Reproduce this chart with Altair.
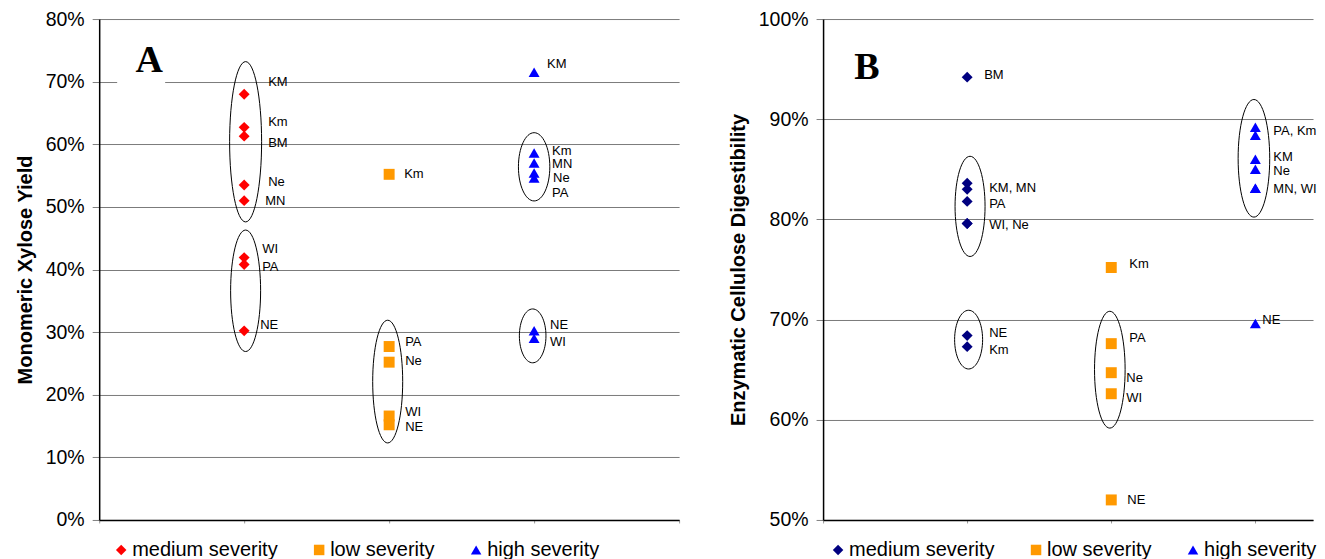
import altair as alt
import pandas as pd

CATS = ["medium severity", "low severity", "high severity"]
CAT_X = [1, 2, 3]
SHAPES = ["diamond", "square", "triangle-up"]

# ---------------- Panel A : Monomeric Xylose Yield (%) ----------------
a_med_names = ["KM", "Km", "BM", "Ne", "MN", "WI", "PA", "NE"]
a_med_vals = [68.0, 62.7, 61.3, 53.5, 51.0, 41.9, 40.8, 30.2]
a_low_names = ["Km", "PA", "Ne", "WI", "NE"]
a_low_vals = [55.2, 27.7, 25.2, 16.6, 15.2]
a_high_names = ["KM", "Km", "MN", "Ne", "PA", "NE", "WI"]
a_high_vals = [71.5, 58.6, 57.0, 55.4, 54.6, 30.2, 29.0]

# point labels (text, label y in %, pixel gap right of the marker)
a_med_lab = ["KM", "Km", "BM", "Ne", "MN", "WI", "PA", "NE"]
a_med_lab_y = [69.9, 63.6, 60.2, 53.9, 51.0, 43.3, 40.4, 31.1]
a_med_lab_dx = [24, 24, 24, 24, 21, 18, 18, 16]
a_low_lab = ["Km", "PA", "Ne", "WI", "NE"]
a_low_lab_y = [55.3, 28.5, 25.4, 17.2, 14.8]
a_low_lab_dx = [15, 16, 16, 16, 16]
a_high_lab = ["KM", "Km", "MN", "Ne", "PA", "NE", "WI"]
a_high_lab_y = [72.8, 59.0, 56.8, 54.6, 52.2, 31.1, 28.4]
a_high_lab_dx = [13, 18, 18, 19, 18, 16, 16]

# cluster ellipses (category x, centre %, half-height %, half-width px)
a_ell_x = [1.01, 1.01, 1.99, 3.0, 2.99]
a_ell_y = [60.4, 36.6, 22.1, 56.4, 29.4]
a_ell_hh = [12.8, 9.7, 9.8, 5.45, 4.3]
a_ell_hw = [16, 15, 15, 15.7, 13.3]

# ---------------- Panel B : Enzymatic Cellulose Digestibility (%) ----------------
b_med_names = ["BM", "KM", "MN", "PA", "WI", "Ne", "NE", "Km"]
b_med_vals = [94.2, 83.6, 83.0, 81.8, 79.6, 79.6, 68.4, 67.3]
b_low_names = ["Km", "PA", "Ne", "WI", "NE"]
b_low_vals = [75.2, 67.6, 64.7, 62.6, 52.0]
b_high_names = ["PA", "Km", "KM", "Ne", "MN", "WI", "NE"]
b_high_vals = [89.2, 88.4, 86.0, 85.0, 83.1, 83.1, 69.6]

b_med_lab = ["BM", "KM, MN", "PA", "WI, Ne", "NE", "Km"]
b_med_lab_y = [94.4, 83.1, 81.5, 79.4, 68.7, 67.0]
b_med_lab_dx = [17, 22, 22, 22, 22, 22]
b_low_lab = ["Km", "PA", "Ne", "WI", "NE"]
b_low_lab_y = [75.5, 68.2, 64.2, 62.2, 52.0]
b_low_lab_dx = [18, 18, 15, 15, 16]
b_high_lab = ["PA, Km", "KM", "Ne", "MN, WI", "NE"]
b_high_lab_y = [88.8, 86.2, 84.8, 83.0, 70.0]
b_high_lab_dx = [18, 18, 18, 18, 7]

b_ell_x = [1.02, 1.01, 1.99, 2.99]
b_ell_y = [81.3, 68.0, 65.0, 86.1]
b_ell_hh = [5.0, 2.93, 5.83, 5.87]
b_ell_hw = [15, 14, 15.3, 15.8]

FONT = "Liberation Sans"
H = 501


def points_df(groups):
    rows = []
    for cat, cx, (names, vals) in zip(CATS, CAT_X, groups):
        for n, v in zip(names, vals):
            rows.append({"x": cx, "y": v, "cat": cat, "name": n})
    return pd.DataFrame(rows)


def labels_df(groups, ppu):
    rows = []
    for cx, (texts, ys, dxs) in zip(CAT_X, groups):
        for t, yv, d in zip(texts, ys, dxs):
            rows.append({"x": cx + d / ppu, "y": yv, "t": t})
    return pd.DataFrame(rows)


def ellipse_path(r):
    k = 0.5523
    return (f"M0,-1 C{k*r:.4f},-1 {r:.4f},{-k:.4f} {r:.4f},0 "
            f"C{r:.4f},{k:.4f} {k*r:.4f},1 0,1 "
            f"C{-k*r:.4f},1 {-r:.4f},{k:.4f} {-r:.4f},0 "
            f"C{-r:.4f},{-k:.4f} {-k*r:.4f},-1 0,-1 Z")


def panel(pts, labs, ells, ydom, ystep, ytitle, colors, width, xdom, xticks,
          letter, letter_xy, box, legend_x):
    ppu_y = H / (ydom[1] - ydom[0])
    xenc = alt.X("x:Q", scale=alt.Scale(domain=xdom, nice=False, zero=False),
                 axis=alt.Axis(values=xticks, labels=False, grid=False, title=None,
                               tickSize=3, tickColor="#999999", domainColor="black",
                               domainWidth=1.5))
    yvals = list(range(ydom[0], ydom[1] + 1, ystep))
    yenc = alt.Y("y:Q", scale=alt.Scale(domain=ydom, nice=False, zero=False),
                 axis=alt.Axis(values=yvals, labelExpr="datum.value + '%'", title=ytitle,
                               grid=True))
    layers = []
    base_grid = alt.Chart(pd.DataFrame({"x": [xdom[0]], "y": [ydom[0]]})).mark_point(
        opacity=0).encode(x=xenc, y=yenc)
    layers.append(base_grid)
    if box is not None:
        bdf = pd.DataFrame({"x": [box[0]], "x2": [box[1]], "y": [box[2]], "y2": [box[3]]})
        layers.append(alt.Chart(bdf).mark_rect(color="white").encode(
            x=xenc, x2="x2:Q", y=yenc, y2="y2:Q"))
    ldf = pd.DataFrame({"x": [letter_xy[0]], "y": [letter_xy[1]], "t": [letter]})
    layers.append(alt.Chart(ldf).mark_text(
        font="Liberation Serif", fontWeight="bold", fontSize=38, baseline="alphabetic",
        align="center", color="black").encode(x=xenc, y=yenc, text="t:N"))
    for ex, ey, hh, hw in ells:
        hh_px = hh * ppu_y
        edf = pd.DataFrame({"x": [ex], "y": [ey]})
        layers.append(alt.Chart(edf).mark_point(
            filled=False, stroke="black", strokeWidth=1, opacity=1,
            shape=ellipse_path(hw / hh_px), size=(2 * hh_px) ** 2).encode(x=xenc, y=yenc))
    leg = alt.Legend(orient="none", legendX=legend_x, legendY=H + 20, direction="horizontal",
                     title=None, labelFontSize=20, labelFont=FONT, labelColor="black",
                     symbolSize=110, symbolStrokeWidth=0, columnPadding=31, labelOffset=1,
                     padding=0)
    layers.append(alt.Chart(pts).mark_point(filled=True, size=120, opacity=1).encode(
        x=xenc, y=yenc,
        color=alt.Color("cat:N", scale=alt.Scale(domain=CATS, range=colors), legend=leg),
        shape=alt.Shape("cat:N", scale=alt.Scale(domain=CATS, range=SHAPES), legend=leg)))
    layers.append(alt.Chart(labs).mark_text(
        align="left", baseline="middle", fontSize=13, font=FONT, color="black").encode(
        x=xenc, y=yenc, text="t:N"))
    return alt.layer(*layers).properties(width=width, height=H)


A_W, A_DOM = 580, [0, 4]
B_W, B_DOM = 490, [0, 3.40]

pa = points_df([(a_med_names, a_med_vals), (a_low_names, a_low_vals), (a_high_names, a_high_vals)])
la = labels_df([(a_med_lab, a_med_lab_y, a_med_lab_dx), (a_low_lab, a_low_lab_y, a_low_lab_dx),
                (a_high_lab, a_high_lab_y, a_high_lab_dx)], A_W / (A_DOM[1] - A_DOM[0]))
pb = points_df([(b_med_names, b_med_vals), (b_low_names, b_low_vals), (b_high_names, b_high_vals)])
lb = labels_df([(b_med_lab, b_med_lab_y, b_med_lab_dx), (b_low_lab, b_low_lab_y, b_low_lab_dx),
                (b_high_lab, b_high_lab_y, b_high_lab_dx)], B_W / (B_DOM[1] - B_DOM[0]))

chart_a = panel(pa, la, list(zip(a_ell_x, a_ell_y, a_ell_hh, a_ell_hw)), [0, 80], 10,
                "Monomeric Xylose Yield", ["#FF0000", "#FF9900", "#0000FF"], A_W, A_DOM,
                [0, 1, 2, 3, 4], "A", (0.345, 71.6), (0.124, 0.455, 68.0, 76.0), 12)
chart_b = panel(pb, lb, list(zip(b_ell_x, b_ell_y, b_ell_hh, b_ell_hw)), [50, 100], 10,
                "Enzymatic Cellulose Digestibility", ["#000080", "#FF9900", "#0000FF"], B_W,
                B_DOM, [0, 1, 2, 3], "B", (0.305, 94.0), None, 5)

chart = alt.hconcat(chart_a, chart_b, spacing=48).resolve_scale(
    color="independent", shape="independent", x="independent", y="independent"
).resolve_legend(color="independent", shape="independent").properties(
    padding={"left": 6.2, "top": 1, "right": 0, "bottom": 0}
).configure_view(stroke=None).configure_axisY(
    labelFont=FONT, labelFontSize=19.5, labelColor="black", tickColor="#808080", tickSize=7,
    labelPadding=8, domainColor="black", domainWidth=1.5, gridColor="#7a7a7a", gridWidth=1,
    titleFont=FONT, titleFontSize=20, titleFontWeight="bold", titleColor="black",
    titlePadding=10
)

chart.save("out.html", embed_options={"renderer": "svg", "actions": False})
